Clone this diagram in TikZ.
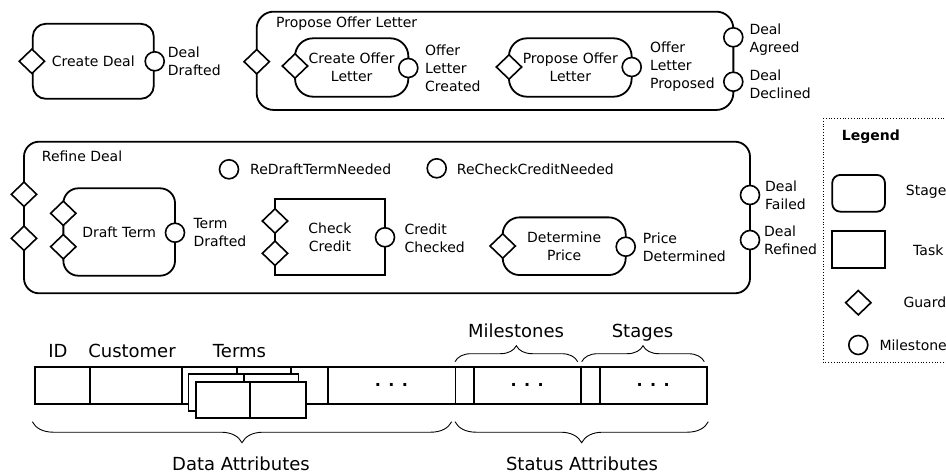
\documentclass[tikz,border=0pt]{standalone}
\usepackage{fontspec}
\setmainfont{DejaVu Sans}
\usetikzlibrary{shapes.geometric,decorations.pathreplacing}

\begin{document}
\begin{tikzpicture}[x=1pt,y=-1pt,
  every node/.style={font=\fontsize{14}{18}\selectfont},
  stagebox/.style={draw, line width=1.8pt, rectangle, rounded corners=#1,
    inner sep=0pt, align=center},
  taskbox/.style={draw, line width=1.8pt, rectangle, inner sep=0pt, align=center},
  guard/.style={draw, diamond, fill=white, line width=1.6pt,
    minimum width=26pt, minimum height=25pt, inner sep=0pt},
  milestone/.style={draw, circle, fill=white, line width=1.6pt,
    minimum size=19pt, inner sep=0pt},
  lbl/.style={anchor=west, align=left, inner sep=0pt},
  biglbl/.style={anchor=base, inner sep=0pt, font=\fontsize{18}{22}\selectfont},
  cell/.style={draw, line width=1.8pt, rectangle, minimum height=36.7pt,
    inner sep=0pt, anchor=north west, fill=white},
  dots/.style={font=\fontsize{16}{18}\selectfont\bfseries},
  curly/.style={decorate, decoration={brace, amplitude=#1}, line width=0.9pt},
]
\useasboundingbox (0,0) rectangle (946,474);

% ---------- Create Deal ----------
\node[stagebox=13pt, minimum width=121pt, minimum height=75pt] (cd) at (93.3,61.3) {Create Deal};
\node[guard] (cdg) at (cd.west) {};
\node[milestone] (cdm) at (cd.east) {};
\node[lbl] (cdml) at (167.7,61.5) {Deal\\Drafted};

% ---------- Propose Offer Letter ----------
\node[stagebox=17pt, minimum width=476.7pt, minimum height=98.3pt] (pol) at (495,60.8) {};
\node[anchor=base west, inner sep=0pt] (poll) at (276,27.5) {Propose Offer Letter};
\node[guard] (polg) at (256.7,61.7) {};
\node[milestone] (polm1) at (733.3,37.3) {};
\node[milestone] (polm2) at (733.3,81.7) {};
\node[lbl] (polm1l) at (749.3,39.5) {Deal\\Agreed};
\node[lbl] (polm2l) at (749.3,84.7) {Deal\\Declined};

\node[stagebox=18pt, minimum width=113.3pt, minimum height=58.4pt] (col) at (351.7,67.5) {Create Offer\\Letter};
\node[guard] (colg) at (295,66) {};
\node[milestone] (colm) at (408.3,68) {};
\node[lbl] (colml) at (425,68) {Offer\\Letter\\Created};

\node[stagebox=18pt, minimum width=122.7pt, minimum height=58.4pt] (pof) at (570.3,67.5) {Propose Offer\\Letter};
\node[guard] (pofg) at (509,67) {};
\node[milestone] (pofm) at (631.7,67) {};
\node[lbl] (pofml) at (650,67) {Offer\\Letter\\Proposed};

% ---------- Refine Deal ----------
\node[stagebox=15pt, minimum width=726pt, minimum height=151.6pt] (rd) at (387,217.5) {};
\node[anchor=base west, inner sep=0pt] (rdl) at (41.7,161.5) {Refine Deal};
\node[guard] (rdg1) at (24,194.3) {};
\node[guard] (rdg2) at (24,238.3) {};
\node[milestone] (rdm1) at (750,195) {};
\node[milestone] (rdm2) at (750,240) {};
\node[lbl] (rdm1l) at (765,195) {Deal\\Failed};
\node[lbl] (rdm2l) at (764,240.5) {Deal\\Refined};

\node[milestone] (rdt) at (229,169.3) {};
\node[anchor=base west, inner sep=0pt] (rdtl) at (250,174.3) {ReDraftTermNeeded};
\node[milestone] (rcc) at (436.7,168.3) {};
\node[anchor=base west, inner sep=0pt] (rccl) at (456.7,174.3) {ReCheckCreditNeeded};

\node[stagebox=15pt, minimum width=111.7pt, minimum height=87.4pt] (dt) at (119.2,232) {Draft Term};
\node[guard] (dtg1) at (63.3,213.3) {};
\node[guard] (dtg2) at (63.3,246.7) {};
\node[milestone] (dtm) at (175,232.7) {};
\node[lbl] (dtml) at (193.3,232.3) {Term\\Drafted};

\node[taskbox, minimum width=110pt, minimum height=75.7pt] (cc) at (330,237.2) {Check\\Credit};
\node[guard] (ccg1) at (275,221) {};
\node[guard] (ccg2) at (275,253.3) {};
\node[milestone] (ccm) at (385,237.3) {};
\node[lbl] (ccml) at (404.5,238) {Credit\\Checked};

\node[stagebox=17pt, minimum width=123pt, minimum height=57.7pt] (dp) at (564.2,246.2) {Determine\\Price};
\node[guard] (dpg) at (502.7,246) {};
\node[milestone] (dpm) at (625.7,246.7) {};
\node[lbl] (dpml) at (642.7,247) {Price\\Determined};

% ---------- Legend ----------
\draw[dotted, line width=0.8pt] (823.3,118) rectangle (960,362.3);
\node[anchor=base west, inner sep=0pt, font=\fontsize{14}{18}\selectfont\bfseries] (lg) at (841.7,140) {Legend};
\node[stagebox=8pt, minimum width=52.7pt, minimum height=36.7pt] (lgs) at (858.6,193.3) {};
\node[lbl] (lgsl) at (905.7,191.7) {Stage};
\node[taskbox, minimum width=52.7pt, minimum height=37.6pt] (lgt) at (858.6,249.5) {};
\node[lbl] (lgtl) at (913,250) {Task};
\node[guard] (lgg) at (858.3,302.7) {};
\node[lbl] (lggl) at (903.3,302.7) {Guard};
\node[milestone] (lgm) at (858.3,345) {};
\node[lbl] (lgml) at (879.3,345) {Milestone};

% ---------- Artifact record ----------
\node[cell, minimum width=55pt] (cid) at (34.3,366) {};
\node[cell, minimum width=91.7pt] (ccust) at (89.3,366) {};
\node[cell, minimum width=145.7pt] (cterm) at (181,366) {};
\node[cell, minimum width=127.8pt, dots] (cdata) at (326.7,366) {. . .};
\node[cell, minimum width=18.2pt] (cm1) at (454.5,366) {};
\node[cell, minimum width=107.3pt, dots] (cm2) at (472.7,366) {. . .};
\node[cell, minimum width=19pt] (cs1) at (580,366) {};
\node[cell, minimum width=106.7pt, dots] (cs2) at (599,366) {. . .};

% stacked term entries
\node[cell, minimum width=54.7pt] (t1a) at (181,366) {};
\node[cell, minimum width=54.3pt] (t1b) at (235.7,366) {};
\node[cell, minimum width=55.2pt] (t2a) at (187.5,373.3) {};
\node[cell, minimum width=54.8pt] (t2b) at (242.7,373.3) {};
\node[cell, minimum width=54.3pt] (t3a) at (195,380.7) {};
\node[cell, minimum width=55.7pt] (t3b) at (249.3,380.7) {};

\node[biglbl] (lid) at (58,357) {ID};
\node[biglbl] (lcust) at (132,357) {Customer};
\node[biglbl] (lterm) at (239.5,357) {Terms};
\node[biglbl] (lms) at (516,337) {Milestones};
\node[biglbl] (lst) at (642.5,337) {Stages};
\node[biglbl] (lda) at (241,470.5) {Data Attributes};
\node[biglbl] (lsa) at (582,470.5) {Status Attributes};

% braces
\coordinate (da1) at (451.7,421.7);
\coordinate (da2) at (32.3,421.7);
\coordinate (sa1) at (708.3,421.7);
\coordinate (sa2) at (455,421.7);
\coordinate (ms1) at (455,361.7);
\coordinate (ms2) at (577.7,361.7);
\coordinate (st1) at (581.7,361.7);
\coordinate (st2) at (704.3,361.7);
\draw[curly=21pt] (da1) -- (da2);
\draw[curly=21pt] (sa1) -- (sa2);
\draw[curly=16pt] (ms1) -- (ms2);
\draw[curly=16pt] (st1) -- (st2);
\end{tikzpicture}
\end{document}
